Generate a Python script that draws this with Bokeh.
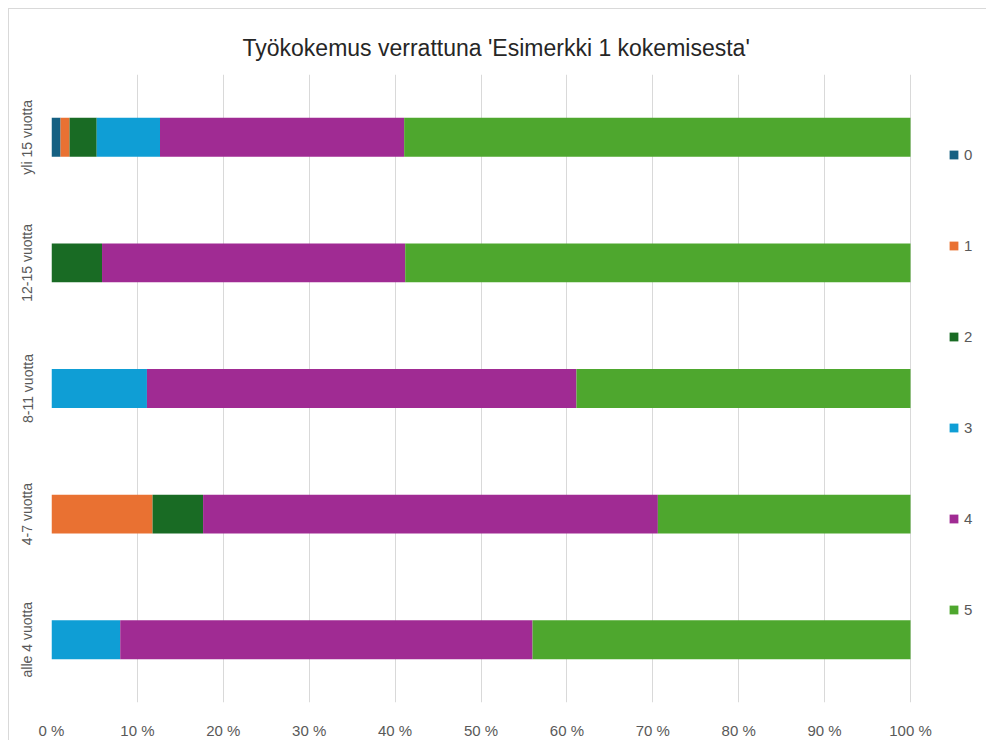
from bokeh.plotting import figure
from bokeh.models import (Range1d, FactorRange, FixedTicker, PrintfTickFormatter,
                          Legend, LegendItem, ColumnDataSource)
from bokeh.embed import file_html
from bokeh.resources import INLINE

# ---- data (respondent counts per rating) ----
categories = ["alle 4 vuotta", "4-7 vuotta", "8-11 vuotta", "12-15 vuotta", "yli 15 vuotta"]
ratings = ["0", "1", "2", "3", "4", "5"]
r0 = [0, 0, 0, 0, 1]
r1 = [0, 2, 0, 0, 1]
r2 = [0, 1, 0, 1, 3]
r3 = [2, 0, 2, 0, 7]
r4 = [12, 9, 9, 6, 27]
r5 = [11, 5, 7, 10, 56]
colors = ["#156082", "#E97132", "#196B24", "#0F9ED5", "#A02B93", "#4EA72E"]
tick_values = [0, 10, 20, 30, 40, 50, 60, 70, 80, 90, 100]
title_text = "Työkokemus verrattuna 'Esimerkki 1 kokemisesta'"

series = [r0, r1, r2, r3, r4, r5]
totals = [sum(s[i] for s in series) for i in range(len(categories))]
data = {"cat": categories}
for name, s in zip(ratings, series):
    data["p" + name] = [100.0 * v / t for v, t in zip(s, totals)]
source = ColumnDataSource(data)

FONT = "Liberation Sans, Arial, sans-serif"
GRAY = "#595959"

# frame spans 0..100 % plus room on the right for the legend
p = figure(width=978, height=732, output_backend="svg", toolbar_location=None,
           title=title_text,
           x_range=Range1d(0, 108.73), y_range=FactorRange(*categories),
           min_border_left=42, min_border_right=2, min_border_top=65, min_border_bottom=34,
           outline_line_color=None, background_fill_color="white", border_fill_color="white")
p.styles = {"margin-left": "8px", "margin-top": "8px",
            "border-left": "1px solid #d9d9d9", "border-top": "1px solid #d9d9d9"}

p.title.align = "left"
p.title.offset = 191
p.title.standoff = 27
p.title.text_font = FONT
p.title.text_font_size = "23px"
p.title.text_font_style = "normal"
p.title.text_color = "#262626"

renderers = p.hbar_stack(["p" + r for r in ratings], y="cat", height=0.31, color=colors,
                         line_color=None, source=source)

# axes
p.xaxis.ticker = FixedTicker(ticks=tick_values)
p.xaxis.formatter = PrintfTickFormatter(format="%d %%")
p.xaxis.axis_line_color = None
p.xaxis.major_tick_line_color = None
p.xaxis.minor_tick_line_color = None
p.xaxis.major_label_text_font = FONT
p.xaxis.major_label_text_font_size = "15px"
p.xaxis.major_label_text_color = GRAY
p.xaxis.major_label_standoff = 13

p.yaxis.axis_line_color = None
p.yaxis.major_tick_line_color = None
p.yaxis.minor_tick_line_color = None
p.yaxis.major_label_orientation = "parallel"
p.yaxis.major_label_text_font = FONT
p.yaxis.major_label_text_font_size = "14px"
p.yaxis.major_label_text_color = GRAY
p.yaxis.major_label_standoff = 10

p.xgrid.grid_line_color = "#d9d9d9"
p.xgrid.grid_line_width = 1
p.ygrid.grid_line_color = None

# legend
items = [LegendItem(label=r, renderers=[rend]) for r, rend in zip(ratings, renderers)]
legend = Legend(items=items, location=(897, 83), orientation="vertical",
                glyph_width=11, glyph_height=11, label_height=20, spacing=71,
                label_standoff=5, padding=0, margin=0,
                border_line_color=None, background_fill_alpha=0,
                label_text_font=FONT, label_text_font_size="15px",
                label_text_color=GRAY, label_text_baseline="middle")
p.add_layout(legend, "center")

open("out.html", "w").write(file_html(p, INLINE))
